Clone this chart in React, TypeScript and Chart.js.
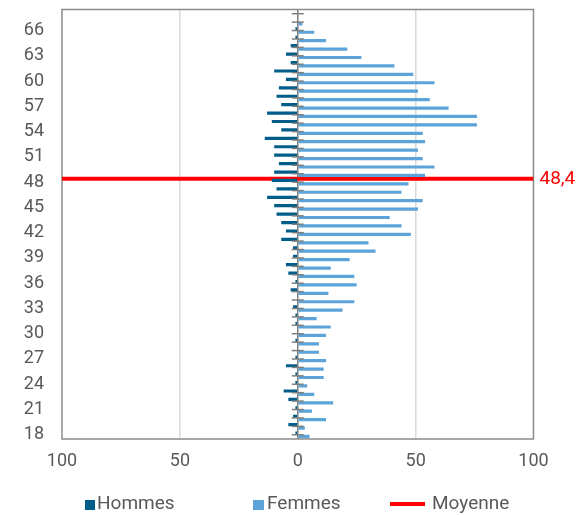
import { useEffect, useRef } from "react";
import { Chart, registerables } from "chart.js";

Chart.register(...registerables);

// Ages (category values)
const AGES = [18, 19, 20, 21, 22, 23, 24, 25, 26, 27, 28, 29, 30, 31, 32, 33, 34, 35, 36, 37, 38, 39, 40, 41, 42, 43, 44, 45, 46, 47, 48, 49, 50, 51, 52, 53, 54, 55, 56, 57, 58, 59, 60, 61, 62, 63, 64, 65, 66, 67];
// Hommes (counts, drawn to the left)
const HOMMES = [1, 4, 2, 1, 4, 6, 1, 1, 5, 1, 0, 1, 0, 1, 1, 2, 0, 3, 1, 4, 5, 2, 2, 7, 5, 7, 9, 10, 13, 9, 11, 10, 8, 10, 10, 14, 7, 11, 13, 7, 9, 8, 5, 10, 3, 5, 3, 1, 1, 0];
// Femmes (counts, drawn to the right)
const FEMMES = [5, 3, 12, 6, 15, 7, 4, 11, 11, 12, 9, 9, 12, 14, 8, 19, 24, 13, 25, 24, 14, 22, 33, 30, 48, 44, 39, 51, 53, 44, 47, 54, 58, 53, 51, 54, 53, 76, 76, 64, 56, 51, 58, 49, 41, 27, 21, 12, 7, 2];
const MOYENNE = 48.4;
const LEGEND_LABELS = ["Hommes", "Femmes", "Moyenne"];

const C_HOMMES = "#005d8a";
const C_FEMMES = "#5ba3d9";
const C_RED = "#ff0000";
const C_TEXT = "#595959";
const FONT = "Roboto";

export default function App() {
  const ref = useRef<HTMLCanvasElement | null>(null);

  useEffect(() => {
    document.body.style.margin = "0";
    const canvas = ref.current;
    if (!canvas) return;

    const framePlugin = {
      id: "frame",
      beforeDatasetsDraw(chart: any) {
        const { ctx, chartArea } = chart;
        ctx.save();
        ctx.strokeStyle = "#8a8a8a";
        ctx.lineWidth = 1.5;
        ctx.strokeRect(chartArea.left, chartArea.top, chartArea.right - chartArea.left, chartArea.bottom - chartArea.top);
        ctx.restore();
      },
      afterDatasetsDraw(chart: any) {
        const { ctx } = chart;
        const xs = chart.scales.x;
        const ys = chart.scales.y;
        const x0 = xs.getPixelForValue(0);
        ctx.save();
        ctx.strokeStyle = "#7f7f7f";
        ctx.lineWidth = 1.5;
        ys.ticks.forEach((t: any) => {
          const y = ys.getPixelForValue(t.value);
          ctx.beginPath();
          ctx.moveTo(x0 - 6, y);
          ctx.lineTo(x0 + 6, y);
          ctx.stroke();
        });
        ctx.restore();
      },
      afterDraw(chart: any) {
        const { ctx, chartArea } = chart;
        const ys = chart.scales.y;
        ctx.save();
        // mean label
        ctx.font = `19px ${FONT}`;
        ctx.fillStyle = C_RED;
        ctx.textAlign = "left";
        ctx.textBaseline = "middle";
        ctx.fillText(MOYENNE.toString().replace(".", ","), chartArea.right + 6, ys.getPixelForValue(MOYENNE));
        // legend
        const ly = 504;
        ctx.fillStyle = C_HOMMES;
        ctx.fillRect(85, ly - 4, 10, 10);
        ctx.fillStyle = C_FEMMES;
        ctx.fillRect(253, ly - 4, 11, 10);
        ctx.strokeStyle = C_RED;
        ctx.lineWidth = 4;
        ctx.beginPath();
        ctx.moveTo(390, ly);
        ctx.lineTo(425, ly);
        ctx.stroke();
        ctx.fillStyle = C_TEXT;
        ctx.font = `19px ${FONT}`;
        ctx.fillText(LEGEND_LABELS[0], 97, ly);
        ctx.fillText(LEGEND_LABELS[1], 267, ly);
        ctx.fillText(LEGEND_LABELS[2], 432, ly);
        ctx.restore();
      },
    };

    const chart = new Chart(canvas, {
      type: "bar",
      data: {
        datasets: [
          {
            label: LEGEND_LABELS[0],
            data: AGES.map((a, i) => ({ x: -HOMMES[i], y: a })),
            backgroundColor: C_HOMMES,
            categoryPercentage: 0.8,
            barPercentage: 0.95,
          },
          {
            label: LEGEND_LABELS[1],
            data: AGES.map((a, i) => ({ x: FEMMES[i], y: a })),
            backgroundColor: C_FEMMES,
            categoryPercentage: 0.8,
            barPercentage: 0.95,
          },
          {
            type: "line",
            label: LEGEND_LABELS[2],
            data: [
              { x: -100, y: MOYENNE },
              { x: 100, y: MOYENNE },
            ],
            borderColor: C_RED,
            borderWidth: 4,
            pointRadius: 0,
            fill: false,
          } as any,
        ],
      },
      options: {
        indexAxis: "y",
        responsive: false,
        animation: false,
        layout: { padding: { top: 9.5, right: 50.5, left: 0, bottom: 0 } },
        plugins: { legend: { display: false }, tooltip: { enabled: false } },
        scales: {
          x: {
            type: "linear",
            min: -100,
            max: 100,
            ticks: {
              stepSize: 50,
              padding: 12,
              color: C_TEXT,
              font: { family: FONT, size: 18 },
              callback: (v: any) => String(Math.abs(Number(v))),
            },
            grid: {
              drawTicks: false,
              lineWidth: 1.5,
              color: (c: any) => {
                const v = c.tick ? c.tick.value : 1;
                if (v === 0) return "#7f7f7f";
                if (Math.abs(v) === 100) return "rgba(0,0,0,0)";
                return "#d9d9d9";
              },
            },
            border: { display: false },
            afterFit: (s: any) => {
              s.height = 76;
            },
          },
          y: {
            type: "linear",
            min: 18,
            max: 68,
            ticks: {
              stepSize: 1,
              autoSkip: false,
              padding: 18,
              color: C_TEXT,
              font: { family: FONT, size: 18 },
              callback: (v: any) => {
                const n = Number(v);
                return (n - 18) % 3 === 0 && n <= 66 ? String(n) : "";
              },
            },
            grid: { display: false, drawTicks: false },
            border: { display: false },
            afterFit: (s: any) => {
              s.width = 62;
              s.paddingTop = 0;
              s.paddingBottom = 0;
            },
          },
        },
      },
      plugins: [framePlugin],
    });

    return () => chart.destroy();
  }, []);

  return <canvas ref={ref} width={584} height={515} style={{ display: "block" }} />;
}
